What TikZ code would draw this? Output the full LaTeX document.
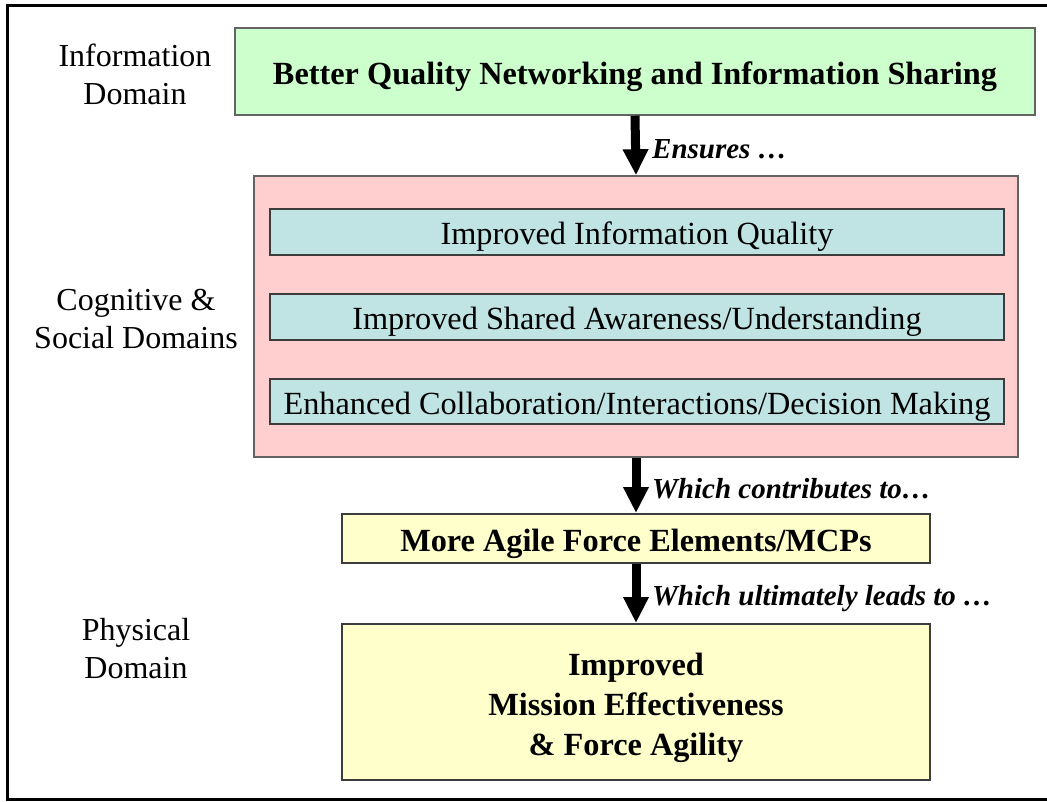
\documentclass[tikz,border=0pt]{standalone}
\usepackage{fontspec}
\setmainfont{Liberation Serif}
\usetikzlibrary{arrows.meta}
\definecolor{infofill}{RGB}{204,255,204}
\definecolor{cogfill}{RGB}{255,206,206}
\definecolor{tealfill}{RGB}{192,228,228}
\definecolor{yelfill}{RGB}{255,255,204}
\definecolor{edge}{RGB}{60,60,60}
\begin{document}
\begin{tikzpicture}[x=1pt,y=-1pt,
  box/.style={draw=edge, inner sep=0pt, align=center, font=\fontsize{32.3}{40}\selectfont},
  oneline/.style={text height=30pt, text depth=5pt},
  tealbox/.style={box, oneline, fill=tealfill, line width=2pt, minimum width=734pt},
  domainlabel/.style={align=center, font=\fontsize{32}{38}\selectfont},
  linklabel/.style={anchor=west, inner sep=0pt, font=\fontsize{29}{34}\selectfont\bfseries\itshape},
  bigarrow/.style={line width=9pt, -{Triangle[width=24pt,length=26pt]}}]
\useasboundingbox (0,0) rectangle (1047,801);
\draw[line width=3pt] (1050,5) -- (7,5) -- (7,799) -- (1050,799);
% boxes
\node[box, oneline, fill=infofill, line width=1.5pt, draw=edge!80, minimum width=800pt, minimum height=87pt, font=\fontsize{32.3}{40}\selectfont\bfseries] (info) at (635,71.5) {Better Quality Networking and Information Sharing};
\node[box, fill=cogfill, line width=1.5pt, draw=edge!80, minimum width=764pt, minimum height=281pt] (cog) at (636,316.5) {};
\node[tealbox, minimum height=46pt] (iq) at (637,232) {Improved Information Quality};
\node[tealbox, minimum height=46pt] (sa) at (637,317) {Improved Shared Awareness/Understanding};
\node[tealbox, minimum height=45pt] (ec) at (637,401.5) {Enhanced Collaboration/Interactions/Decision Making};
\node[box, oneline, fill=yelfill, line width=2pt, minimum width=588pt, minimum height=49pt, font=\fontsize{32.3}{40}\selectfont\bfseries] (agile) at (636,538.5) {More Agile Force Elements/MCPs};
\node[box, fill=yelfill, line width=2pt, minimum width=588pt, minimum height=156pt, text height=110pt, text depth=3pt, font=\fontsize{32.3}{40}\selectfont\bfseries] (mission) at (636,702) {Improved\\Mission Effectiveness\\\& Force Agility};
% domain labels
\node[domainlabel] (dinfo) at (135,74) {Information\\Domain};
\node[domainlabel] (dcog) at (136,319) {Cognitive \&\\Social Domains};
\node[domainlabel] (dphys) at (136,649) {Physical\\Domain};
% arrows
\draw[bigarrow] (info.south) -- (cog.north);
\draw[bigarrow] (cog.south) -- (agile.north);
\draw[bigarrow] (agile.south) -- (mission.north);
% arrow labels
\node[linklabel] (l1) at (652,149) {Ensures …};
\node[linklabel] (l2) at (652,489) {Which contributes to…};
\node[linklabel] (l3) at (652,599) {Which ultimately leads to …};
\end{tikzpicture}
\end{document}
